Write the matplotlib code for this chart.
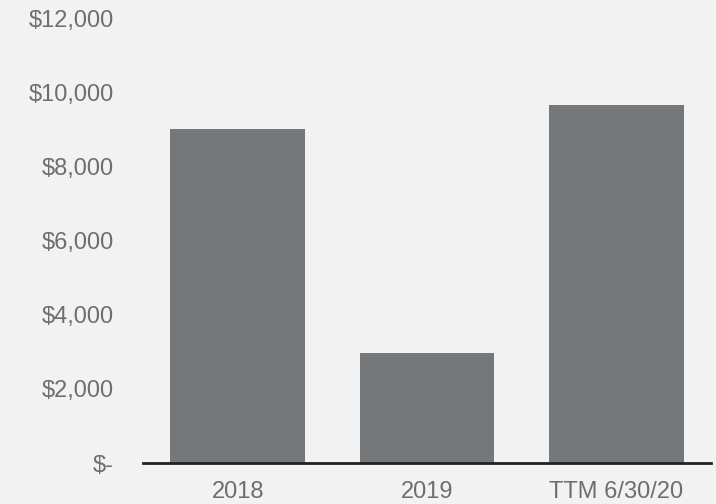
import matplotlib.pyplot as plt
from matplotlib.ticker import FuncFormatter

categories = ["2018", "2019", "TTM 6/30/20"]
values = [9000, 2960, 9650]
yticks = [0, 2000, 4000, 6000, 8000, 10000, 12000]

bg = "#f2f2f2"
bar_color = "#75787b"
text_color = "#6d6e71"

plt.rcParams['font.family'] = ['Liberation Sans', 'DejaVu Sans']

fig = plt.figure(figsize=(7.16, 5.04), dpi=100, facecolor=bg)
ax = fig.add_axes([143 / 716, 41 / 504, 568 / 716, 445 / 504], facecolor=bg)

ax.bar(range(len(categories)), values, width=0.712, color=bar_color)

ax.set_xlim(-0.5, 2.5)
ax.set_ylim(0, 12000)
ax.set_yticks(yticks)
ax.yaxis.set_major_formatter(FuncFormatter(lambda v, p: "$-" if v == 0 else f"${v:,.0f}"))
ax.set_xticks(range(len(categories)))
ax.set_xticklabels(categories)

for s in ["top", "right", "left"]:
    ax.spines[s].set_visible(False)
ax.spines["bottom"].set_color("#222222")
ax.spines["bottom"].set_linewidth(2)

ax.tick_params(axis="y", length=0, pad=21, labelsize=17, labelcolor=text_color)
ax.tick_params(axis="x", length=0, pad=13, labelsize=17, labelcolor=text_color)

fig.savefig("out.png", dpi=100, facecolor=bg)
